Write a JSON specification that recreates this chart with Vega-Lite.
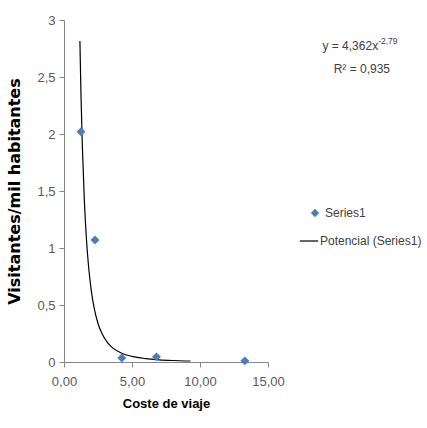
{
  "$schema": "https://vega.github.io/schema/vega-lite/v6.json",
  "autosize": "none",
  "padding": {"left": 64, "top": 20, "right": 159, "bottom": 66},
  "width": 204,
  "height": 342,
  "background": "white",
  "config": {
    "view": {"stroke": null},
    "font": "Liberation Sans, sans-serif"
  },
  "datasets": {
    "obs": [
      {"coste": 1.25, "visitantes": 2.02, "serie": "Series1"},
      {"coste": 2.28, "visitantes": 1.07, "serie": "Series1"},
      {"coste": 4.25, "visitantes": 0.035, "serie": "Series1"},
      {"coste": 6.8, "visitantes": 0.045, "serie": "Series1"},
      {"coste": 13.3, "visitantes": 0.01, "serie": "Series1"}
    ],
    "trend": [
      {"coste": 1.17, "visitantes": 2.815, "serie": "Potencial (Series1)"},
      {"coste": 1.25, "visitantes": 2.34, "serie": "Potencial (Series1)"},
      {"coste": 1.35, "visitantes": 1.888, "serie": "Potencial (Series1)"},
      {"coste": 1.5, "visitantes": 1.407, "serie": "Potencial (Series1)"},
      {"coste": 1.65, "visitantes": 1.079, "serie": "Potencial (Series1)"},
      {"coste": 1.8, "visitantes": 0.846, "serie": "Potencial (Series1)"},
      {"coste": 2.0, "visitantes": 0.631, "serie": "Potencial (Series1)"},
      {"coste": 2.25, "visitantes": 0.454, "serie": "Potencial (Series1)"},
      {"coste": 2.5, "visitantes": 0.338, "serie": "Potencial (Series1)"},
      {"coste": 2.8, "visitantes": 0.247, "serie": "Potencial (Series1)"},
      {"coste": 3.2, "visitantes": 0.17, "serie": "Potencial (Series1)"},
      {"coste": 3.6, "visitantes": 0.122, "serie": "Potencial (Series1)"},
      {"coste": 4.2, "visitantes": 0.0796, "serie": "Potencial (Series1)"},
      {"coste": 5.0, "visitantes": 0.0489, "serie": "Potencial (Series1)"},
      {"coste": 6.0, "visitantes": 0.0294, "serie": "Potencial (Series1)"},
      {"coste": 7.0, "visitantes": 0.0191, "serie": "Potencial (Series1)"},
      {"coste": 8.0, "visitantes": 0.0132, "serie": "Potencial (Series1)"},
      {"coste": 9.3, "visitantes": 0.0087, "serie": "Potencial (Series1)"}
    ],
    "anno": [{"eq": "y = 4,362x", "exp": "-2,79", "r2": "R² = 0,935"}]
  },
  "layer": [
    {
      "data": {"name": "trend"},
      "mark": {"type": "line", "strokeWidth": 1.2, "interpolate": "monotone"},
      "encoding": {
        "x": {"field": "coste", "type": "quantitative"},
        "y": {"field": "visitantes", "type": "quantitative"},
        "color": {
          "field": "serie",
          "type": "nominal",
          "scale": {"domain": ["Potencial (Series1)"], "range": ["#000000"]},
          "legend": {
            "title": null,
            "orient": "none",
            "legendX": 235,
            "legendY": 211,
            "labelFontSize": 12,
            "labelColor": "#404040",
            "symbolType": "stroke",
            "symbolSize": 340,
            "symbolStrokeWidth": 1.2,
            "labelOffset": 1
          }
        }
      }
    },
    {
      "data": {"name": "obs"},
      "mark": {"type": "point", "filled": true, "size": 80, "opacity": 1, "color": "#4a7ebb"},
      "encoding": {
        "x": {
          "field": "coste",
          "type": "quantitative",
          "scale": {"domain": [0, 15], "nice": false, "zero": true},
          "axis": {
            "title": "Coste de viaje",
            "titleFont": "Liberation Sans, sans-serif",
            "titleFontSize": 13,
            "titleFontWeight": "bold",
            "titleColor": "#000000",
            "titlePadding": 9,
            "values": [0, 5, 10, 15],
            "labelExpr": "replace(format(datum.value, '.2f'), '.', ',')",
            "labelFlush": false,
            "labelFontSize": 13,
            "labelColor": "#595959",
            "labelPadding": 8,
            "domainColor": "#868686",
            "tickColor": "#868686",
            "tickSize": 5,
            "grid": false
          }
        },
        "y": {
          "field": "visitantes",
          "type": "quantitative",
          "scale": {"domain": [0, 3], "nice": false},
          "axis": {
            "title": "Visitantes/mil habitantes",
            "titleFont": "DejaVu Sans, sans-serif",
            "titleFontSize": 16,
            "titleFontWeight": "bold",
            "titleColor": "#000000",
            "titlePadding": 14,
            "values": [0, 0.5, 1, 1.5, 2, 2.5, 3],
            "labelExpr": "replace(toString(datum.value), '.', ',')",
            "labelFontSize": 13,
            "labelColor": "#595959",
            "labelPadding": 4,
            "domainColor": "#868686",
            "tickColor": "#868686",
            "tickSize": 5,
            "grid": false
          }
        },
        "shape": {
          "field": "serie",
          "type": "nominal",
          "scale": {"domain": ["Series1"], "range": ["diamond"]},
          "legend": {
            "title": null,
            "orient": "none",
            "legendX": 245,
            "legendY": 187,
            "labelFontSize": 12,
            "labelColor": "#404040",
            "symbolSize": 70,
            "symbolFillColor": "#4a7ebb",
            "symbolStrokeColor": "transparent",
            "labelOffset": 4
          }
        }
      }
    },
    {
      "data": {"name": "anno"},
      "mark": {"type": "text", "align": "right", "baseline": "middle", "fontSize": 12, "color": "#404040"},
      "encoding": {
        "x": {"datum": 23.1, "type": "quantitative"},
        "y": {"datum": 2.77, "type": "quantitative"},
        "text": {"field": "eq"}
      }
    },
    {
      "data": {"name": "anno"},
      "mark": {"type": "text", "align": "left", "baseline": "middle", "fontSize": 8.5, "color": "#404040", "dy": -5},
      "encoding": {
        "x": {"datum": 23.1, "type": "quantitative"},
        "y": {"datum": 2.77, "type": "quantitative"},
        "text": {"field": "exp"}
      }
    },
    {
      "data": {"name": "anno"},
      "mark": {"type": "text", "align": "center", "baseline": "middle", "fontSize": 12, "color": "#404040"},
      "encoding": {
        "x": {"datum": 21.9, "type": "quantitative"},
        "y": {"datum": 2.57, "type": "quantitative"},
        "text": {"field": "r2"}
      }
    }
  ]
}
